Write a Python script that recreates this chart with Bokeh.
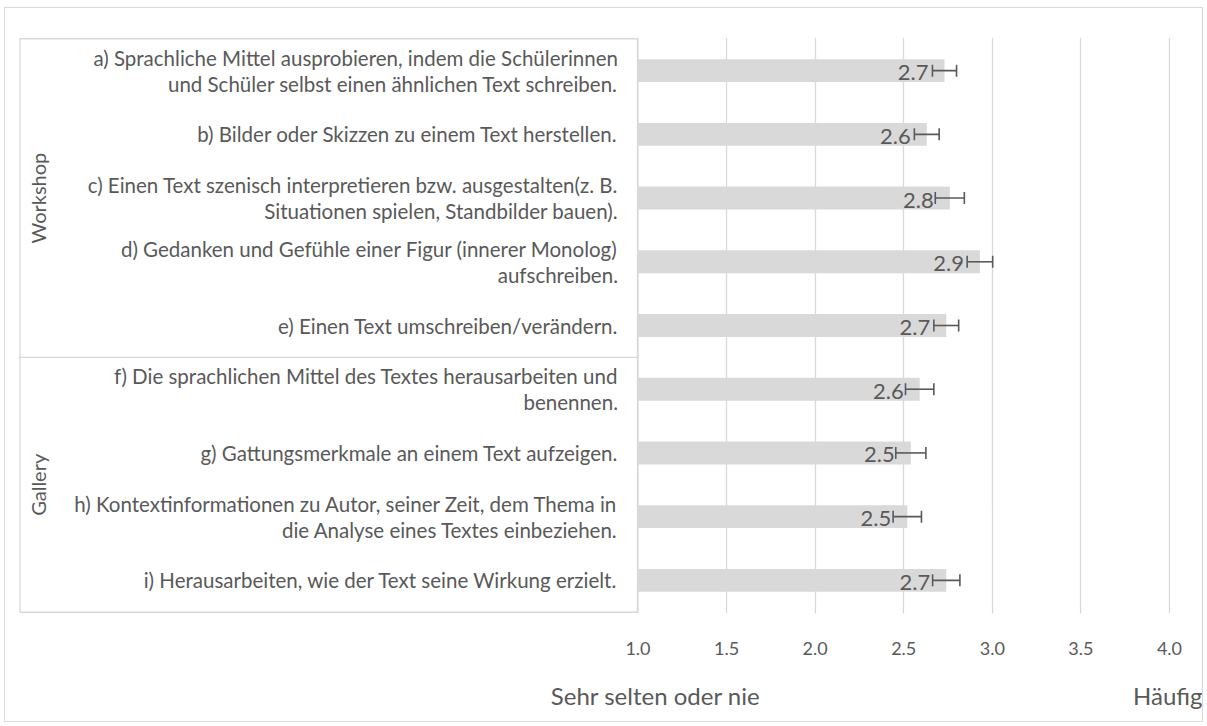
from bokeh.plotting import figure
from bokeh.models import FactorRange, Range1d, FixedTicker, NumeralTickFormatter, Whisker, ColumnDataSource, LinearAxis
from bokeh.core.properties import value
from bokeh.embed import file_html
from bokeh.resources import INLINE
import math

# ---- data ----
keys = ["a", "b", "c", "d", "e", "f", "g", "h", "i"]
labels = [
    "a) Sprachliche Mittel ausprobieren, indem die Schülerinnen\nund Schüler selbst einen ähnlichen Text schreiben.",
    "b) Bilder oder Skizzen zu einem Text herstellen.",
    "c) Einen Text szenisch interpretieren bzw. ausgestalten(z. B.\nSituationen spielen, Standbilder bauen).",
    "d) Gedanken und Gefühle einer Figur (innerer Monolog)\naufschreiben.",
    "e) Einen Text umschreiben/verändern.",
    "f) Die sprachlichen Mittel des Textes herausarbeiten und\nbenennen.",
    "g) Gattungsmerkmale an einem Text aufzeigen.",
    "h) Kontextinformationen zu Autor, seiner Zeit, dem Thema in\ndie Analyse eines Textes einbeziehen.",
    "i) Herausarbeiten, wie der Text seine Wirkung erzielt.",
]
means = [2.73, 2.63, 2.76, 2.93, 2.74, 2.59, 2.54, 2.52, 2.74]
errors = [0.068, 0.07, 0.082, 0.072, 0.07, 0.08, 0.085, 0.08, 0.077]
groups = ["Workshop", "Gallery"]
group_sizes = [5, 4]
x_ticks = [1.0, 1.5, 2.0, 2.5, 3.0, 3.5, 4.0]
axis_titles = {1.1: "Sehr selten oder nie", 4.0: "Häufig"}

GREY_TEXT = "#595959"
LIGHT = "#d9d9d9"
FONT = "Lato"

W, H = 1199, 715
X0, X1 = -2.4966, 4.1468

src = ColumnDataSource(dict(
    key=keys, label=labels, mean=means,
    lower=[m - e for m, e in zip(means, errors)],
    upper=[m + e for m, e in zip(means, errors)],
    txt=[f"{m:.1f}" for m in means],
))

y_range = FactorRange(factors=list(reversed(keys)), range_padding=0.02,
                      range_padding_units="absolute", factor_padding=0)

p = figure(width=W, height=H, y_range=y_range, x_range=Range1d(X0, X1),
           output_backend="svg", toolbar_location=None, y_axis_location=None,
           min_border_left=13, min_border_right=9, min_border_top=29,
           min_border_bottom=110)
p.styles = {"border": "1px solid #d9d9d9", "margin": "7px 0px 0px 4px"}
p.outline_line_color = None
p.background_fill_color = "white"
p.border_fill_color = "white"

# grid / axis with ticks
p.ygrid.visible = False
p.xaxis.ticker = FixedTicker(ticks=x_ticks)
p.xgrid.grid_line_color = LIGHT
p.xgrid.grid_line_width = 1.3
p.xaxis.formatter = NumeralTickFormatter(format="0.0")
p.xaxis.axis_line_color = None
p.xaxis.major_tick_line_color = None
p.xaxis.minor_tick_line_color = None
p.xaxis.major_tick_out = 0
p.xaxis.major_tick_in = 0
p.xaxis.major_label_standoff = 28
p.xaxis.major_label_text_font = FONT
p.xaxis.major_label_text_font_size = "18px"
p.xaxis.major_label_text_color = GREY_TEXT

# second axis carrying the scale end titles
ax2 = LinearAxis(ticker=FixedTicker(ticks=list(axis_titles.keys())),
                 major_label_overrides=axis_titles)
ax2.axis_line_color = None
ax2.major_tick_line_color = None
ax2.minor_tick_line_color = None
ax2.major_tick_out = 0
ax2.major_tick_in = 0
ax2.major_label_standoff = 23
ax2.major_label_text_font = FONT
ax2.major_label_text_font_size = "24px"
ax2.major_label_text_color = GREY_TEXT
p.add_layout(ax2, "below")

# category label area box and group separator
n = len(keys)
p.quad(left=[X0 + 0.008], right=[1.0], bottom=[0], top=[n],
       fill_color=None, line_color=LIGHT, line_width=1.3)
sep = group_sizes[1]
p.segment(x0=[X0], x1=[1.0], y0=[sep], y1=[sep], line_color=LIGHT, line_width=1.3)

# bars
p.hbar(y="key", left=1.0, right="mean", height=0.36, source=src,
       fill_color=LIGHT, line_color=None)

# error bars
wh = Whisker(base="key", lower="lower", upper="upper", dimension="width", source=src,
             line_color=GREY_TEXT, line_width=1.6, level="annotation")
for head in (wh.upper_head, wh.lower_head):
    head.size = 12
    head.line_color = GREY_TEXT
    head.line_width = 1.6
p.add_layout(wh)

# value labels
p.text(x="mean", y="key", text="txt", source=src, x_offset=-16, y_offset=2,
       text_align="right", text_baseline="middle", text_font=value(FONT),
       text_font_size="22px", text_color=GREY_TEXT)

# category labels
p.text(x=1.0, y="key", text="label", source=src, x_offset=-20,
       text_align="right", text_baseline="middle", text_font=value(FONT),
       text_font_size="20.5px", text_color=GREY_TEXT, text_line_height=1.08)

# group labels
g_centers = [n - group_sizes[0] / 2, group_sizes[1] / 2]
p.text(x=[X0, X0], y=g_centers, text=groups, x_offset=19, angle=math.pi / 2,
       text_align="center", text_baseline="middle", text_font=value(FONT),
       text_font_size="20px", text_color=GREY_TEXT)

open("out.html", "w").write(file_html(p, INLINE))
